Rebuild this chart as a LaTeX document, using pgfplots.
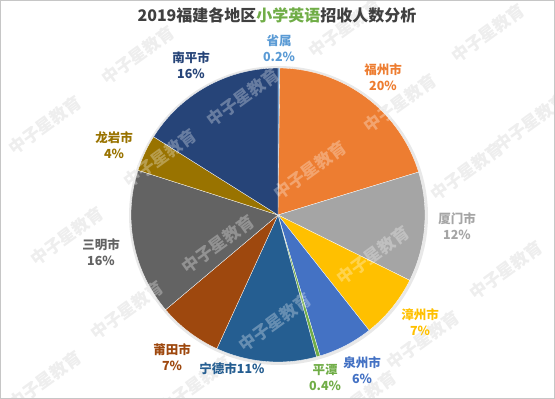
\documentclass[border=0pt]{standalone}
\usepackage{fontspec}
\setmainfont{Noto Sans CJK SC}
\usepackage{pgfplots}
\pgfplotsset{compat=1.18}
\definecolor{cSheng}{HTML}{5B9BD5}
\definecolor{cFuzhou}{HTML}{ED7D31}
\definecolor{cXiamen}{HTML}{A5A5A5}
\definecolor{cZhangzhou}{HTML}{FFC000}
\definecolor{cQuanzhou}{HTML}{4472C4}
\definecolor{cPingtan}{HTML}{70AD47}
\definecolor{cNingde}{HTML}{255E91}
\definecolor{cPutian}{HTML}{9E480E}
\definecolor{cSanming}{HTML}{636363}
\definecolor{cLongyan}{HTML}{997300}
\definecolor{cNanping}{HTML}{264478}
\definecolor{cTitle}{HTML}{404040}
\definecolor{cGreen}{HTML}{70AD47}
\definecolor{cWater}{HTML}{E8E8E8}
\newcommand{\wmlist}{45/274,138/344,243/302,160/241,67/163,218/155,127/89,45/19,275/77,195/14,373/144,423/59,506/129,400/296,310/229,345/371,488/366,531/277,467/228,360/-1}
% one slice: cumulative start %, cumulative end %, colour (percent of total 99.6)
\newcommand{\slice}[3]{%
  \addplot[fill=#3, draw=white, line width=0.3pt,
    domain=90-#2*3.614458:90-#1*3.614458, samples=60, variable=\t]
    ({278+147*cos(\t)},{184+147*sin(\t)}) -- (axis cs:278,184) -- cycle;}
\newcommand{\lab}[5]{%
  \node[text=#3, align=center, font=\bfseries\fontsize{12.5}{16}\selectfont]
    at (axis cs:#1,#2) {#4\\#5};}
\pgfplotsset{layer/.style={anchor=origin, at={(0,0)},
  x=1pt, y=1pt, xmin=0, xmax=555, ymin=0, ymax=399,
  scale only axis, hide axis, clip=false}}
\begin{document}
\begin{tikzpicture}
% watermark on the white ground
\begin{scope}
\clip (0,0) rectangle (555pt,399pt);
\foreach \wx/\wy in \wmlist
  \node[rotate=36, text=cWater, font=\bfseries\fontsize{17}{17}\selectfont] at (\wx pt,\wy pt) {中子星教育};
\end{scope}
\begin{axis}[layer]
% soft shadow
\addplot[fill=gray!18, draw=none, domain=0:360, samples=120, variable=\t]
  ({278.5+149.5*cos(\t)},{183.5+149.5*sin(\t)}) -- cycle;
% shares: 0.2, 20, 12, 7, 6, 0.4, 11, 7, 16, 4, 16
\slice{0}{0.2}{cSheng}
\slice{0.2}{20.2}{cFuzhou}
\slice{20.2}{32.2}{cXiamen}
\slice{32.2}{39.2}{cZhangzhou}
\slice{39.2}{45.2}{cQuanzhou}
\slice{45.2}{45.6}{cPingtan}
\slice{45.6}{56.6}{cNingde}
\slice{56.6}{63.6}{cPutian}
\slice{63.6}{79.6}{cSanming}
\slice{79.6}{83.6}{cLongyan}
\slice{83.6}{99.6}{cNanping}
\end{axis}
% watermark over the pie: translucent white
\begin{scope}
\clip (0,0) rectangle (555pt,399pt);
\foreach \wx/\wy in \wmlist
  \node[rotate=36, text=white, opacity=0.3, font=\bfseries\fontsize{17}{17}\selectfont] at (\wx pt,\wy pt) {中子星教育};
\draw[gray!45, line width=0.8pt] (0.8pt,0.8pt) rectangle (554.2pt,398.2pt);
\end{scope}
\begin{axis}[layer]
\node[text=cTitle, font=\bfseries\fontsize{16}{18}\selectfont] at (axis cs:277,384)
  {2019福建各地区\textcolor{cGreen}{小学英语}招收人数分析};
\lab{279}{351}{cSheng}{省属}{0.2\%}
\lab{191}{333.5}{cNanping}{南平市}{16\%}
\lab{383}{321.5}{cFuzhou}{福州市}{20\%}
\lab{457}{173}{cXiamen}{厦门市}{12\%}
\lab{420}{77}{cZhangzhou}{漳州市}{7\%}
\lab{362}{29}{cQuanzhou}{泉州市}{6\%}
\lab{325}{22}{cPingtan}{平潭}{0.4\%}
\node[text=cNingde, font=\bfseries\fontsize{12.5}{16}\selectfont] at (axis cs:232,30) {宁德市11\%};
\lab{172}{42}{cPutian}{莆田市}{7\%}
\lab{101}{147}{cSanming}{三明市}{16\%}
\lab{114}{254}{cLongyan}{龙岩市}{4\%}
\end{axis}
\pgfresetboundingbox
\path[use as bounding box] (0,0) rectangle (555pt,399pt);
\end{tikzpicture}
\end{document}
